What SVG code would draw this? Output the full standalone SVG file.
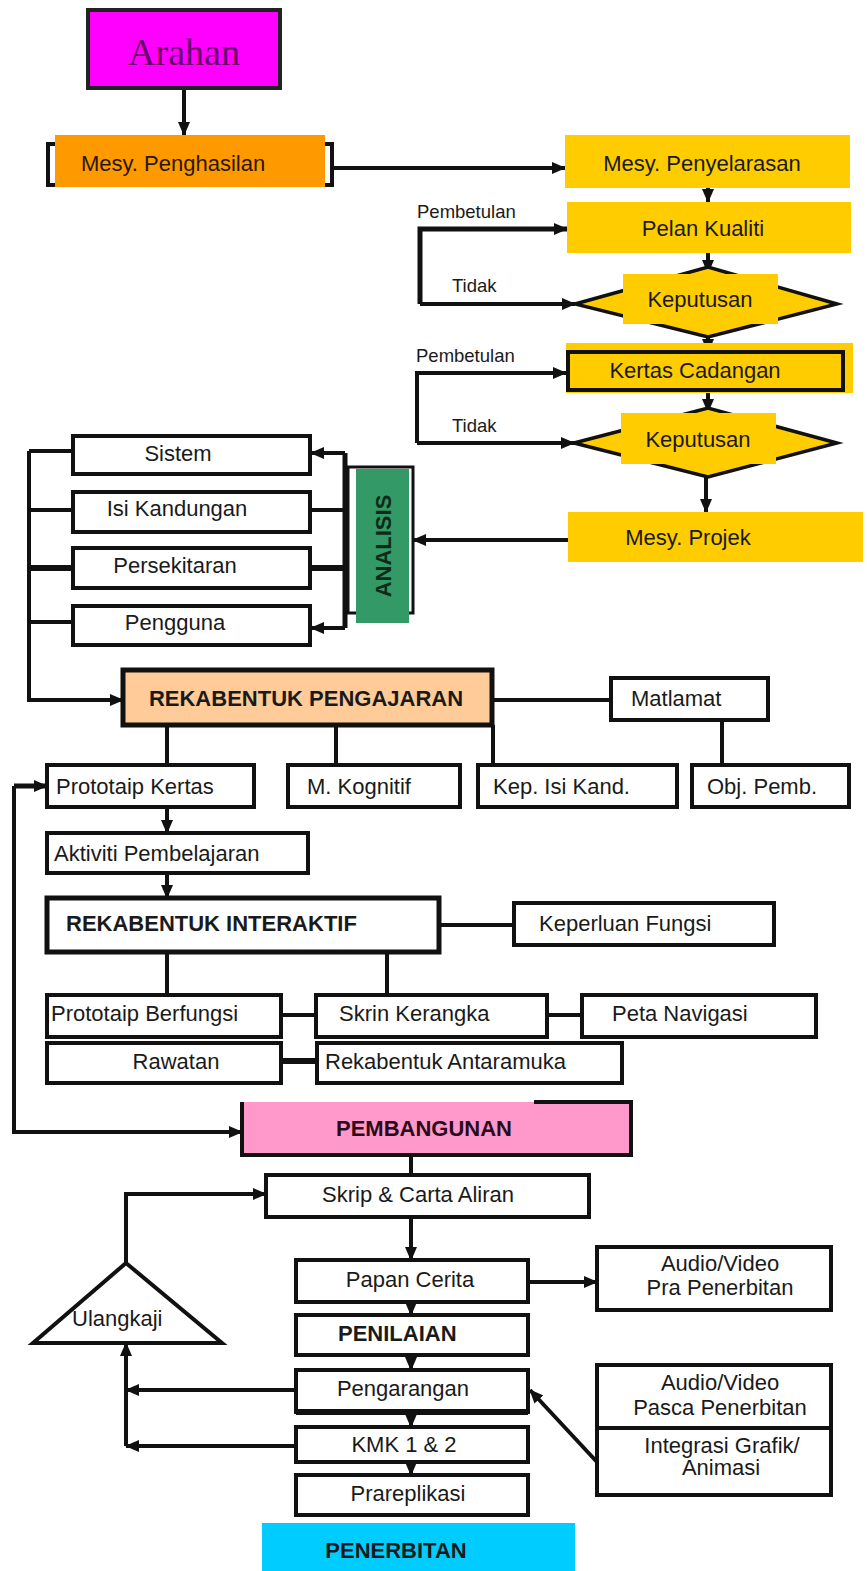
<svg xmlns="http://www.w3.org/2000/svg" width="867" height="1571" viewBox="0 0 867 1571">
<defs>
<marker id="ah" markerWidth="14" markerHeight="12" refX="13" refY="6" orient="auto" markerUnits="userSpaceOnUse"><path d="M0,0 L14,6 L0,12 z" fill="#111"/></marker>
<style>
.t{font-family:"Liberation Sans",Arial,sans-serif;font-size:22px;fill:#1a1a1a}
.b{font-weight:bold}
.s{font-size:18.5px}
.m{text-anchor:middle}
.bx{fill:#fff;stroke:#111;stroke-width:4}
.c{fill:none;stroke:#111;stroke-width:4}
.a{marker-end:url(#ah)}
.y{fill:#FFCC00}
</style>
</defs>
<rect width="867" height="1571" fill="#fff"/>

<g id="connectors">
<path class="c a" d="M184,88 V135"/>
<path class="c a" d="M333,168 H565"/>
<path class="c a" d="M708,188 V202"/>
<path class="c a" d="M708,253 V273"/>
<path class="c a" d="M420,304 V229 H567" style="stroke-width:5"/>
<path class="c a" d="M420,304 H575"/>
<path class="c a" d="M708,337 V352"/>
<path class="c a" d="M417,443 V373 H566"/>
<path class="c a" d="M417,443 H574"/>
<path class="c a" d="M708,390 V412"/>
<path class="c a" d="M706,477 V512"/>
<path class="c a" d="M568,540 H413"/>
<path class="c a" d="M29,451 V700 H123"/>
<path class="c" d="M29,451 H73 M29,510 H73 M29,622 H73"/>
<path class="c" d="M29,568 H73" style="stroke-width:6"/>
<path class="c" d="M345,453 V628" style="stroke-width:5"/>
<path class="c a" d="M345,453 H311"/>
<path class="c a" d="M345,628 H311"/>
<path class="c" d="M310,510 H348"/>
<path class="c" d="M310,568 H348" style="stroke-width:6"/>
<path class="c" d="M492,700 H611 M722,720 V765 M167,725 V765 M336,725 V765 M493,725 V765"/>
<path class="c a" d="M14,786 H47" style="stroke-width:5"/>
<path class="c a" d="M14,786 V1132 H242"/>
<path class="c a" d="M167,807 V833"/>
<path class="c a" d="M167,873 V898"/>
<path class="c" d="M439,925 H514 M167,952 V995 M387,952 V995 M281,1015 H316 M547,1015 H582"/>
<path class="c" d="M281,1061 H317" style="stroke-width:6"/>
<path class="c" d="M411,1155 V1175"/>
<path class="c a" d="M126,1263 V1194 H266"/>
<path class="c a" d="M411,1217 V1260"/>
<path class="c a" d="M528,1282 H597"/>
<path class="c a" d="M411,1302 V1315"/>
<path class="c a" d="M411,1355 V1370"/>
<path class="c a" d="M411,1412 V1427"/>
<path class="c a" d="M411,1462 V1475"/>
<path class="c a" d="M296,1390 H126"/>
<path class="c a" d="M296,1446 H126"/>
<path class="c a" d="M126,1446 V1343"/>
<path class="c a" d="M597,1462 L530,1390"/>
</g>

<g id="labels">
<text class="t s" x="417" y="218">Pembetulan</text>
<text class="t s" x="452" y="292">Tidak</text>
<text class="t s" x="416" y="362">Pembetulan</text>
<text class="t s" x="452" y="432">Tidak</text>
</g>

<g id="arahan">
<rect x="88" y="10" width="192" height="78" fill="#FF00FF" stroke="#222" stroke-width="4"/>
<text x="184" y="65" text-anchor="middle" style="font-family:'Liberation Serif','Times New Roman',serif;font-size:38px;fill:#6a006a">Arahan</text>
</g>

<g id="mesy-penghasilan">
<rect x="55" y="135" width="270" height="52" fill="#FF9900"/>
<path class="c" d="M55,144 H48 V185 H55 M325,144 H332 V185 H325"/>
<text class="t m" x="173" y="171" style="fill:#2a1800">Mesy. Penghasilan</text>
</g>

<g id="mesy-penyelarasan">
<rect class="y" x="565" y="135" width="285" height="53"/>
<text class="t m" x="702" y="171">Mesy. Penyelarasan</text>
</g>

<g id="pelan-kualiti">
<rect class="y" x="567" y="202" width="284" height="51"/>
<text class="t m" x="703" y="236">Pelan Kualiti</text>
</g>

<g id="keputusan-1">
<polygon class="y" points="575,304 708,267 837,304 708,337" stroke="#111" stroke-width="3.5"/>
<rect class="y" x="623" y="274" width="155" height="50"/>
<text class="t m" x="700" y="307">Keputusan</text>
</g>

<g id="kertas-cadangan">
<rect class="y" x="566" y="343" width="287" height="50"/>
<rect x="568" y="352" width="275" height="38" fill="none" stroke="#111" stroke-width="4"/>
<text class="t m" x="695" y="378">Kertas Cadangan</text>
</g>

<g id="keputusan-2">
<polygon class="y" points="574,443 708,408 837,443 708,477" stroke="#111" stroke-width="3.5"/>
<rect class="y" x="621" y="413" width="155" height="51"/>
<text class="t m" x="698" y="447">Keputusan</text>
</g>

<g id="mesy-projek">
<rect class="y" x="568" y="512" width="295" height="50"/>
<text class="t m" x="688" y="545">Mesy. Projek</text>
</g>

<g id="analisis">
<rect x="348" y="467" width="65" height="146" fill="none" stroke="#111" stroke-width="3"/>
<rect x="356" y="469" width="53" height="154" fill="#339966"/>
<text class="t b m" transform="translate(391,546) rotate(-90)" style="fill:#0f2a18">ANALISIS</text>
</g>

<g id="sistem"><rect class="bx" x="73" y="436" width="237" height="38"/><text class="t m" x="178" y="461">Sistem</text></g>
<g id="isi-kandungan"><rect class="bx" x="73" y="492" width="237" height="40"/><text class="t m" x="177" y="516">Isi Kandungan</text></g>
<g id="persekitaran"><rect class="bx" x="73" y="548" width="237" height="40"/><text class="t m" x="175" y="573">Persekitaran</text></g>
<g id="pengguna"><rect class="bx" x="73" y="606" width="237" height="39"/><text class="t m" x="175" y="630">Pengguna</text></g>

<g id="rekabentuk-pengajaran">
<rect x="123" y="670" width="369" height="55" fill="#FFCC99" stroke="#111" stroke-width="5"/>
<text class="t b m" x="306" y="706">REKABENTUK PENGAJARAN</text>
</g>
<g id="matlamat"><rect class="bx" x="611" y="678" width="157" height="42"/><text class="t" x="631" y="706">Matlamat</text></g>
<g id="prototaip-kertas"><rect class="bx" x="47" y="765" width="207" height="42"/><text class="t" x="56" y="794">Prototaip Kertas</text></g>
<g id="m-kognitif"><rect class="bx" x="288" y="765" width="172" height="42"/><text class="t" x="307" y="794">M. Kognitif</text></g>
<g id="kep-isi-kand"><rect class="bx" x="478" y="765" width="199" height="42"/><text class="t" x="493" y="794">Kep. Isi Kand.</text></g>
<g id="obj-pemb"><rect class="bx" x="692" y="765" width="157" height="42"/><text class="t" x="707" y="794">Obj. Pemb.</text></g>
<g id="aktiviti"><rect class="bx" x="47" y="833" width="261" height="40"/><text class="t" x="54" y="861">Aktiviti Pembelajaran</text></g>

<g id="rekabentuk-interaktif">
<rect x="47" y="898" width="392" height="54" fill="#fff" stroke="#111" stroke-width="5"/>
<text class="t b" x="66" y="931">REKABENTUK INTERAKTIF</text>
</g>
<g id="keperluan-fungsi"><rect class="bx" x="514" y="903" width="260" height="42"/><text class="t" x="539" y="931">Keperluan Fungsi</text></g>
<g id="prototaip-berfungsi"><rect class="bx" x="47" y="995" width="234" height="42"/><text class="t" x="51" y="1021">Prototaip Berfungsi</text></g>
<g id="skrin-kerangka"><rect class="bx" x="316" y="995" width="231" height="42"/><text class="t" x="339" y="1021">Skrin Kerangka</text></g>
<g id="peta-navigasi"><rect class="bx" x="582" y="995" width="234" height="42"/><text class="t" x="612" y="1021">Peta Navigasi</text></g>
<g id="rawatan"><rect class="bx" x="47" y="1043" width="234" height="40"/><text class="t m" x="176" y="1069">Rawatan</text></g>
<g id="rekabentuk-antaramuka"><rect class="bx" x="317" y="1043" width="305" height="40"/><text class="t" x="325" y="1069">Rekabentuk Antaramuka</text></g>

<g id="pembangunan">
<rect x="242" y="1102" width="389" height="53" fill="#FF99CC"/>
<path class="c" d="M534,1102 H631 V1155 H242 V1102"/>
<text class="t b m" x="424" y="1136" style="fill:#2a0a18">PEMBANGUNAN</text>
</g>
<g id="skrip"><rect class="bx" x="266" y="1175" width="323" height="42"/><text class="t m" x="418" y="1202">Skrip &amp; Carta Aliran</text></g>
<g id="papan-cerita"><rect class="bx" x="296" y="1260" width="232" height="42"/><text class="t m" x="410" y="1287">Papan Cerita</text></g>
<g id="av-pra"><rect class="bx" x="597" y="1247" width="234" height="63"/><text class="t m" x="720" y="1271">Audio/Video</text><text class="t m" x="720" y="1295">Pra Penerbitan</text></g>
<g id="ulangkaji"><polygon class="bx" points="126,1263 33,1343 222,1343"/><text class="t" x="72" y="1326">Ulangkaji</text></g>
<g id="penilaian"><rect class="bx" x="296" y="1315" width="232" height="40"/><text class="t b" x="338" y="1341">PENILAIAN</text></g>
<g id="pengarangan"><rect class="bx" x="296" y="1370" width="232" height="42"/><path class="c" d="M296,1412 H528" style="stroke-width:6"/><text class="t m" x="403" y="1396">Pengarangan</text></g>
<g id="kmk"><rect class="bx" x="296" y="1427" width="232" height="35"/><text class="t m" x="404" y="1452">KMK 1 &amp; 2</text></g>
<g id="prareplikasi"><rect class="bx" x="296" y="1475" width="232" height="40"/><text class="t m" x="408" y="1501">Prareplikasi</text></g>
<g id="penerbitan"><rect x="262" y="1523" width="313" height="48" fill="#00CCFF"/><text class="t b m" x="396" y="1558">PENERBITAN</text></g>
<g id="av-pasca">
<rect class="bx" x="597" y="1365" width="234" height="130"/>
<path class="c" d="M597,1428 H831"/>
<text class="t m" x="720" y="1390">Audio/Video</text>
<text class="t m" x="720" y="1415">Pasca Penerbitan</text>
<text class="t m" x="722" y="1453">Integrasi Grafik/</text>
<text class="t m" x="721" y="1475">Animasi</text>
</g>
</svg>
